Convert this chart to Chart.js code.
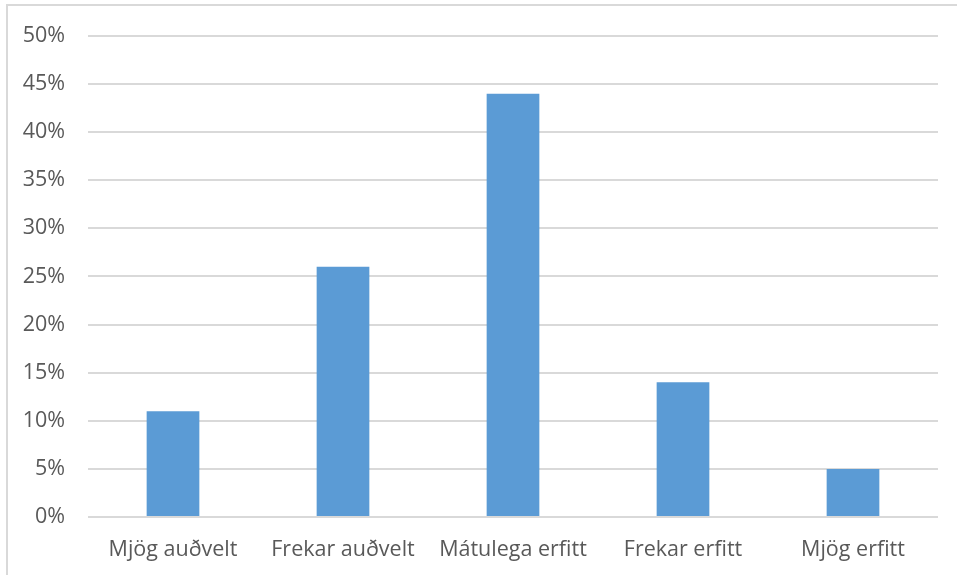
<!DOCTYPE html>
<html>
<head>
<meta charset="utf-8">
<script src="https://cdn.jsdelivr.net/npm/chart.js@4.4.0/dist/chart.umd.min.js"></script>
<style>
  html, body { margin: 0; padding: 0; background: #fff; }
  #wrap { position: relative; width: 957px; height: 575px; }
  #frame { position: absolute; left: 6px; top: 4px; width: 960px; height: 580px;
           border-left: 2px solid #D9D9D9; border-top: 2px solid #D9D9D9; box-sizing: border-box; }
  canvas { position: absolute; left: 0; top: 0; }
</style>
</head>
<body>
<div id="wrap">
  <div id="frame"></div>
  <canvas id="c" width="957" height="575"></canvas>
</div>
<script>
const categories = ["Mjög auðvelt", "Frekar auðvelt", "Mátulega erfitt", "Frekar erfitt", "Mjög erfitt"];
const values = [11, 26, 44, 14, 5];
const yMin = 0, yMax = 50, yStep = 5;

new Chart(document.getElementById('c'), {
  type: 'bar',
  data: {
    labels: categories,
    datasets: [{
      data: values,
      backgroundColor: '#5B9BD5',
      borderWidth: 0,
      categoryPercentage: 1,
      barPercentage: 0.31
    }]
  },
  options: {
    responsive: false,
    animation: false,
    devicePixelRatio: 1,
    layout: { padding: { left: 0, right: 19, top: 33, bottom: 0 } },
    plugins: { legend: { display: false }, tooltip: { enabled: false } },
    scales: {
      x: {
        grid: { display: false, drawTicks: false },
        border: { display: false },
        ticks: { color: '#595959', font: { family: 'Open Sans', size: 21.5 }, padding: 20, maxRotation: 0, autoSkip: false },
        afterFit: s => { s.height = 58; }
      },
      y: {
        min: yMin, max: yMax,
        grid: { color: '#D9D9D9', lineWidth: 2, drawTicks: false },
        border: { display: false },
        ticks: { stepSize: yStep, color: '#595959', font: { family: 'Open Sans', size: 21.5 }, padding: 23,
                 callback: v => v + '%' },
        afterFit: s => { s.width = 88; }
      }
    }
  }
});
</script>
</body>
</html>
